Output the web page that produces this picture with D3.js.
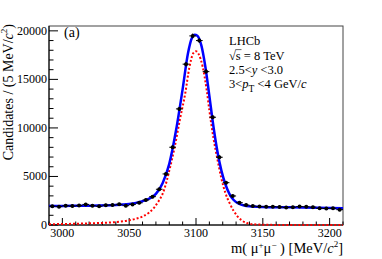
<!DOCTYPE html>
<html>
<head>
<meta charset="utf-8">
<script src="https://cdn.jsdelivr.net/npm/d3@7"></script>
<style>
  body { margin: 0; background: #fff; }
  text { font-family: "Liberation Serif", "DejaVu Serif", serif; fill: #000; }
</style>
</head>
<body>
<script>
// histogram: bin centres (5 MeV bins) and candidates
var binMass = [2992.5, 2997.5, 3002.5, 3007.5, 3012.5, 3017.5, 3022.5, 3027.5, 3032.5, 3037.5, 3042.5, 3047.5,
  3052.5, 3057.5, 3062.5, 3067.5, 3072.5, 3077.5, 3082.5, 3087.5, 3092.5, 3097.5, 3102.5, 3107.5,
  3112.5, 3117.5, 3122.5, 3127.5, 3132.5, 3137.5, 3142.5, 3147.5, 3152.5, 3157.5, 3162.5, 3167.5,
  3172.5, 3177.5, 3182.5, 3187.5, 3192.5, 3197.5, 3202.5, 3207.5];
var counts = [1930, 1890, 1990, 1950, 2000, 2120, 1990, 1930, 2040, 2050, 2130, 1990,
  2120, 2280, 2580, 2920, 3680, 5260, 8010, 11960, 16570, 19480, 19000, 15800,
  11100, 6980, 4360, 2990, 2300, 2060, 1950, 1900, 1880, 1890, 1850, 1800,
  1830, 1900, 1880, 1840, 1720, 1700, 1720, 1580];

// total fit (blue)
var fitMass = [2990, 3000, 3020, 3040, 3050, 3055, 3060, 3065, 3070, 3075, 3080, 3085, 3090, 3094, 3097, 3099,
  3101, 3104, 3107, 3110, 3113, 3116, 3119, 3122, 3125, 3128, 3132, 3136, 3140, 3150, 3170, 3190, 3210];
var fitTotal = [1960, 1970, 1990, 2060, 2170, 2280, 2450, 2720, 3200, 4300, 6300, 9700, 14000, 17700, 19300, 19600,
  19500, 18500, 16300, 13300, 10200, 7600, 5600, 4200, 3200, 2600, 2200, 2000, 1920, 1860, 1820, 1770, 1720];

// signal component (red dotted)
var sigMass = [2990, 3000, 3020, 3040, 3050, 3055, 3060, 3065, 3069, 3072, 3075, 3078, 3080, 3084, 3088, 3092, 3095,
  3098, 3100, 3102, 3105, 3108, 3110, 3113, 3116, 3119, 3122, 3125, 3128, 3131, 3134, 3138, 3145, 3160, 3210];
var fitSignal = [80, 100, 170, 300, 480, 640, 880, 1300, 1850, 2450, 3200, 4500, 5600, 8000, 10900, 13600, 16200,
  17700, 17900, 17600, 16300, 13900, 11800, 9000, 6800, 4800, 3300, 2300, 1500, 900, 500, 200, 60, 10, 5];

var xTicks = [3000, 3050, 3100, 3150, 3200];
var yTicks = [0, 5000, 10000, 15000, 20000];

var width = 382, height = 259;
var padL = 49, padR = 343, padT = 26, padB = 225;

var svg = d3.select("body").append("svg").attr("width", width).attr("height", height);

var x = d3.scaleLinear().domain([2990, 3210]).range([padL, padR]);
var y = d3.scaleLinear().domain([0, 20500]).range([padB, padT]);

// frame
svg.append("rect").attr("x", padL).attr("y", padT).attr("width", padR - padL).attr("height", padB - padT)
  .attr("fill", "none").attr("stroke", "#444").attr("stroke-width", 1);

// ticks (major + minor, pointing inward)
var minorX = d3.range(2990, 3211, 10);
svg.selectAll(".mx").data(minorX).enter().append("line")
  .attr("x1", function(d){ return x(d); }).attr("x2", function(d){ return x(d); })
  .attr("y1", padB).attr("y2", function(d){ return xTicks.indexOf(d) >= 0 ? padB - 7 : padB - 3.5; })
  .attr("stroke", "#000").attr("stroke-width", 1);
var minorY = d3.range(0, 20501, 1000);
svg.selectAll(".my").data(minorY).enter().append("line")
  .attr("x1", padL).attr("x2", function(d){ return yTicks.indexOf(d) >= 0 ? padL + 9 : padL + 4.5; })
  .attr("y1", function(d){ return y(d); }).attr("y2", function(d){ return y(d); })
  .attr("stroke", "#000").attr("stroke-width", 1);

// axis lines
svg.append("line").attr("x1", padL).attr("x2", padR).attr("y1", padB).attr("y2", padB).attr("stroke", "#000");
svg.append("line").attr("x1", padL).attr("x2", padL).attr("y1", padT).attr("y2", padB).attr("stroke", "#000");

// tick labels
svg.selectAll(".xl").data(xTicks).enter().append("text")
  .attr("x", function(d){ return x(d); }).attr("y", 237)
  .attr("text-anchor", "middle").attr("font-size", "12px").text(function(d){ return d; });
svg.selectAll(".yl").data(yTicks).enter().append("text")
  .attr("x", 47).attr("y", function(d){ return y(d) + 4; })
  .attr("text-anchor", "end").attr("font-size", "12px").text(function(d){ return d; });

// curves
svg.append("clipPath").attr("id", "c").append("rect")
  .attr("x", padL).attr("y", padT).attr("width", padR - padL).attr("height", padB - padT + 1);

var sigLine = d3.line().x(function(d, i){ return x(sigMass[i]); }).y(function(d){ return y(d); })
  .curve(d3.curveMonotoneX);
svg.append("path").attr("d", sigLine(fitSignal)).attr("clip-path", "url(#c)")
  .attr("fill", "none").attr("stroke", "#ff0000").attr("stroke-width", 2).attr("stroke-dasharray", "2,2");

var totLine = d3.line().x(function(d, i){ return x(fitMass[i]); }).y(function(d){ return y(d); })
  .curve(d3.curveMonotoneX);
svg.append("path").attr("d", totLine(fitTotal))
  .attr("fill", "none").attr("stroke", "#0000ff").attr("stroke-width", 2.5);

// data points with errors
var pts = svg.append("g");
pts.selectAll(".eh").data(counts).enter().append("line")
  .attr("x1", function(d, i){ return x(binMass[i] - 2.5); }).attr("x2", function(d, i){ return x(binMass[i] + 2.5); })
  .attr("y1", function(d){ return y(d); }).attr("y2", function(d){ return y(d); })
  .attr("stroke", "#000").attr("stroke-width", 1);
pts.selectAll(".ev").data(counts).enter().append("line")
  .attr("x1", function(d, i){ return x(binMass[i]); }).attr("x2", function(d, i){ return x(binMass[i]); })
  .attr("y1", function(d){ return y(d - Math.sqrt(d)) + 1; }).attr("y2", function(d){ return y(d + Math.sqrt(d)) - 1; })
  .attr("stroke", "#000").attr("stroke-width", 1);
pts.selectAll("circle").data(counts).enter().append("circle")
  .attr("cx", function(d, i){ return x(binMass[i]); }).attr("cy", function(d){ return y(d); })
  .attr("r", 2).attr("fill", "#000");

// labels
svg.append("text").attr("x", 64).attr("y", 37).attr("font-size", "14px").text("(a)");

var info = svg.append("g").attr("font-size", "12.5px");
info.append("text").attr("x", 229).attr("y", 45).text("LHCb");
var rs = info.append("text").attr("x", 229).attr("y", 59.5);
rs.append("tspan").text("\u221As");
rs.append("tspan").text(" = 8 TeV");
info.append("line").attr("x1", 235.3).attr("x2", 241.5).attr("y1", 49.6).attr("y2", 49.6).attr("stroke", "#000").attr("stroke-width", 0.6);
var ry = info.append("text").attr("x", 229).attr("y", 73.5);
ry.append("tspan").text("2.5<");
ry.append("tspan").attr("font-style", "italic").text("y");
ry.append("tspan").text(" <3.0");
var rp = info.append("text").attr("x", 229).attr("y", 87.5);
rp.append("tspan").text("3<");
rp.append("tspan").attr("font-style", "italic").text("p");
rp.append("tspan").attr("font-size", "9.5px").attr("dy", 4.5).text("T");
rp.append("tspan").attr("dy", -4.5).text(" <4 GeV/");
rp.append("tspan").attr("font-style", "italic").text("c");

// axis titles
var xt = svg.append("text").attr("x", 343).attr("y", 253).attr("text-anchor", "end").attr("font-size", "14.5px");
xt.append("tspan").text("m( \u03BC");
xt.append("tspan").attr("font-size", "9px").attr("dy", -5).text("+");
xt.append("tspan").attr("dy", 5).text("\u03BC");
xt.append("tspan").attr("font-size", "9px").attr("dy", -5).text("\u2212");
xt.append("tspan").attr("dy", 5).text(" ) [MeV/");
xt.append("tspan").attr("font-style", "italic").text("c");
xt.append("tspan").attr("font-size", "9px").attr("dy", -6).text("2");
xt.append("tspan").attr("dy", 6).text("]");

var yt = svg.append("text").attr("transform", "translate(13,24) rotate(-90)")
  .attr("text-anchor", "end").attr("font-size", "14px");
yt.append("tspan").text("Candidates / (5 MeV/");
yt.append("tspan").attr("font-style", "italic").text("c");
yt.append("tspan").attr("font-size", "9px").attr("dy", -6).text("2");
yt.append("tspan").attr("dy", 6).text(")");
</script>
</body>
</html>
